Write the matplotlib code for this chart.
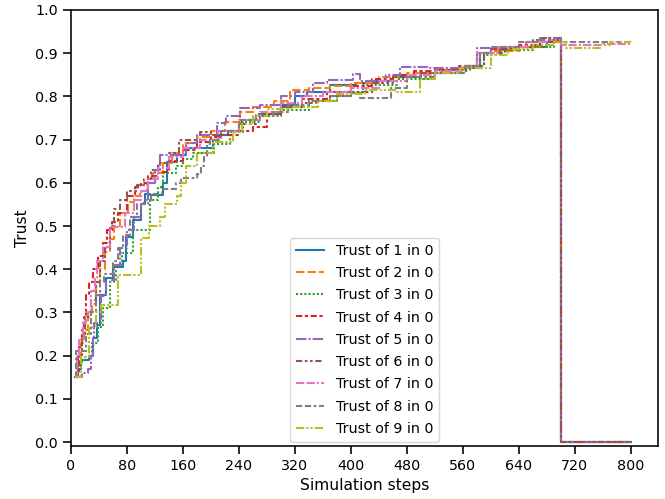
import matplotlib
matplotlib.use("Agg")
import matplotlib.pyplot as plt

# trust of agents 1..9 as seen by agent 0 (breakpoints, step-wise)
STEPS_1 = [5, 10, 14, 25, 32, 37, 41, 50, 60, 74, 79, 89, 100, 106, 113, 131, 137, 151, 165, 203, 210, 225, 245, 270, 300, 320, 337, 370, 408, 430, 460, 500, 530, 560, 585, 600, 640, 680, 695, 700, 800]
TRUST_1 = [0.15, 0.17, 0.19, 0.20, 0.24, 0.27, 0.34, 0.38, 0.405, 0.42, 0.475, 0.515, 0.55, 0.575, 0.572, 0.60, 0.648, 0.665, 0.68, 0.70, 0.71, 0.72, 0.745, 0.76, 0.78, 0.80, 0.81, 0.826, 0.83, 0.835, 0.845, 0.855, 0.86, 0.865, 0.90, 0.91, 0.915, 0.925, 0.93, 0.0, 0.0]

STEPS_2 = [5, 9, 14, 18, 24, 30, 36, 41, 48, 55, 62, 70, 82, 90, 98, 108, 117, 131, 145, 160, 180, 200, 220, 241, 260, 290, 313, 340, 370, 400, 440, 480, 520, 560, 580, 600, 640, 670, 690, 700, 800]
TRUST_2 = [0.15, 0.19, 0.23, 0.26, 0.30, 0.32, 0.37, 0.40, 0.44, 0.47, 0.50, 0.53, 0.555, 0.57, 0.58, 0.60, 0.623, 0.646, 0.67, 0.692, 0.705, 0.72, 0.74, 0.765, 0.775, 0.79, 0.815, 0.82, 0.823, 0.83, 0.845, 0.855, 0.86, 0.868, 0.90, 0.905, 0.915, 0.92, 0.925, 0.0, 0.0]

STEPS_3 = [5, 10, 18, 30, 38, 45, 56, 65, 73, 89, 113, 125, 131, 150, 160, 175, 205, 227, 246, 270, 300, 340, 380, 417, 466, 513, 565, 590, 613, 660, 690, 700, 800]
TRUST_3 = [0.15, 0.185, 0.197, 0.23, 0.266, 0.31, 0.375, 0.41, 0.437, 0.49, 0.56, 0.59, 0.622, 0.64, 0.655, 0.668, 0.69, 0.717, 0.74, 0.755, 0.768, 0.79, 0.81, 0.826, 0.84, 0.854, 0.87, 0.895, 0.907, 0.915, 0.925, 0.0, 0.0]

STEPS_4 = [5, 9, 12, 15, 18, 22, 25, 32, 38, 45, 52, 58, 67, 80, 92, 100, 110, 125, 140, 160, 180, 200, 215, 240, 260, 280, 300, 330, 366, 400, 430, 460, 490, 520, 555, 580, 600, 640, 670, 690, 700, 800]
TRUST_4 = [0.15, 0.16, 0.22, 0.26, 0.29, 0.34, 0.37, 0.40, 0.43, 0.46, 0.49, 0.51, 0.53, 0.57, 0.59, 0.60, 0.615, 0.625, 0.65, 0.675, 0.695, 0.705, 0.71, 0.72, 0.73, 0.76, 0.775, 0.795, 0.81, 0.825, 0.84, 0.85, 0.858, 0.862, 0.87, 0.90, 0.91, 0.92, 0.925, 0.93, 0.0, 0.0]

STEPS_5 = [5, 15, 24, 28, 31, 33, 43, 50, 62, 70, 80, 90, 100, 110, 120, 127, 165, 180, 208, 222, 241, 270, 300, 320, 346, 366, 403, 413, 450, 470, 513, 560, 580, 615, 650, 670, 700, 800]
TRUST_5 = [0.15, 0.16, 0.17, 0.20, 0.24, 0.275, 0.337, 0.37, 0.41, 0.45, 0.49, 0.52, 0.55, 0.60, 0.63, 0.664, 0.692, 0.71, 0.738, 0.755, 0.773, 0.78, 0.80, 0.81, 0.83, 0.838, 0.853, 0.835, 0.85, 0.868, 0.865, 0.87, 0.912, 0.915, 0.925, 0.935, 0.0, 0.0]

STEPS_6 = [5, 10, 15, 20, 28, 35, 42, 48, 56, 62, 70, 80, 95, 105, 115, 125, 140, 155, 184, 200, 215, 240, 265, 300, 330, 350, 370, 400, 430, 460, 500, 540, 570, 590, 620, 660, 675, 700, 800]
TRUST_6 = [0.15, 0.20, 0.25, 0.29, 0.33, 0.37, 0.42, 0.45, 0.50, 0.54, 0.56, 0.58, 0.595, 0.61, 0.63, 0.645, 0.67, 0.70, 0.718, 0.71, 0.72, 0.735, 0.76, 0.775, 0.785, 0.79, 0.80, 0.81, 0.83, 0.845, 0.855, 0.86, 0.87, 0.90, 0.915, 0.93, 0.935, 0.0, 0.0]

STEPS_7 = [5, 8, 12, 17, 22, 28, 34, 37, 46, 56, 77, 90, 100, 110, 125, 140, 160, 185, 210, 240, 270, 300, 330, 360, 400, 440, 480, 520, 560, 580, 610, 650, 680, 700, 760, 800]
TRUST_7 = [0.15, 0.20, 0.236, 0.275, 0.30, 0.35, 0.38, 0.42, 0.452, 0.498, 0.53, 0.56, 0.58, 0.61, 0.635, 0.66, 0.68, 0.70, 0.72, 0.745, 0.765, 0.785, 0.80, 0.81, 0.82, 0.835, 0.85, 0.858, 0.87, 0.90, 0.915, 0.925, 0.93, 0.918, 0.922, 0.922]

STEPS_8 = [5, 7, 22, 28, 35, 42, 47, 60, 67, 75, 85, 95, 105, 115, 130, 150, 157, 180, 186, 190, 195, 199, 215, 240, 265, 289, 310, 340, 370, 399, 413, 458, 480, 520, 560, 585, 600, 640, 670, 690, 700, 800]
TRUST_8 = [0.15, 0.21, 0.25, 0.30, 0.34, 0.37, 0.39, 0.42, 0.45, 0.48, 0.52, 0.55, 0.56, 0.575, 0.585, 0.60, 0.612, 0.62, 0.64, 0.66, 0.69, 0.70, 0.72, 0.745, 0.755, 0.764, 0.78, 0.79, 0.80, 0.808, 0.796, 0.82, 0.845, 0.855, 0.87, 0.90, 0.915, 0.925, 0.93, 0.935, 0.925, 0.925]

STEPS_9 = [5, 14, 26, 35, 43, 67, 100, 112, 127, 135, 151, 157, 165, 180, 203, 231, 245, 260, 280, 317, 353, 380, 420, 463, 499, 520, 556, 600, 625, 660, 690, 708, 756, 770, 800]
TRUST_9 = [0.15, 0.197, 0.266, 0.30, 0.317, 0.386, 0.472, 0.50, 0.52, 0.55, 0.57, 0.60, 0.64, 0.67, 0.694, 0.717, 0.735, 0.755, 0.77, 0.775, 0.79, 0.805, 0.815, 0.81, 0.84, 0.855, 0.866, 0.896, 0.91, 0.918, 0.925, 0.912, 0.918, 0.925, 0.925]

SERIES = [
    (STEPS_1, TRUST_1), (STEPS_2, TRUST_2), (STEPS_3, TRUST_3),
    (STEPS_4, TRUST_4), (STEPS_5, TRUST_5), (STEPS_6, TRUST_6),
    (STEPS_7, TRUST_7), (STEPS_8, TRUST_8), (STEPS_9, TRUST_9),
]
LABELS = [f"Trust of {i} in 0" for i in range(1, 10)]
X_TICKS = list(range(0, 801, 80))
Y_TICKS = [i / 10 for i in range(11)]

# seaborn's default dash sequence for 9 styles
DASHES = [
    None,
    (4, 1.5),
    (1, 1),
    (3, 1.25, 1.5, 1.25),
    (5, 1, 1, 1),
    (3, 1.25, 1.25, 1.25, 1.25, 1.25),
    (4, 1, 4, 1, 1, 1),
    (3, 1.25, 3, 1.25, 1.25, 1.25),
    (4, 1, 1, 1, 1, 1),
]
COLORS = plt.rcParams["axes.prop_cycle"].by_key()["color"]


def main() -> None:
    fig = plt.figure(figsize=(6.65, 4.99), dpi=100)
    ax = fig.add_axes([0.1068, 0.1062, 0.8827, 0.8738])

    for i, (steps, trust) in enumerate(SERIES):
        kwargs = {"dashes": DASHES[i]} if DASHES[i] else {"linestyle": "-"}
        ax.plot(steps, trust, drawstyle="steps-post", color=COLORS[i],
                linewidth=1.5, label=LABELS[i], **kwargs)

    ax.set_xlim(0, 839)
    ax.set_ylim(-0.009, 1.0)
    ax.set_xticks(X_TICKS)
    ax.set_yticks(Y_TICKS)
    ax.set_xlabel("Simulation steps", fontsize=11.2)
    ax.set_ylabel("Trust", fontsize=11.2)
    ax.tick_params(labelsize=10.3, length=5.8, width=1.15)
    for spine in ax.spines.values():
        spine.set_linewidth(1.15)
    ax.legend(loc="lower center", fontsize=10.3, borderaxespad=0.3,
              labelspacing=0.58)

    fig.savefig("out.png", dpi=100)
    plt.close(fig)


if __name__ == "__main__":
    main()
